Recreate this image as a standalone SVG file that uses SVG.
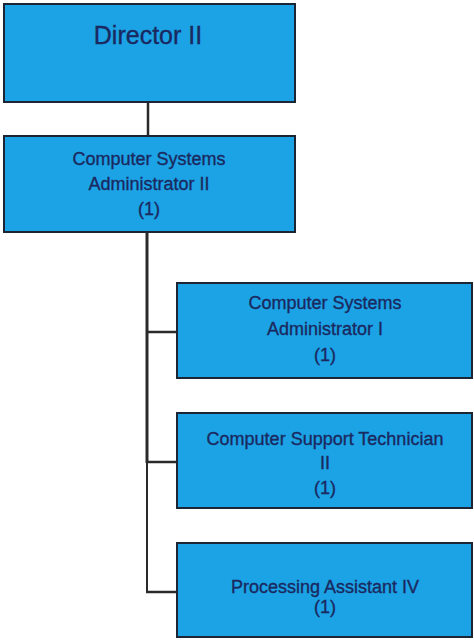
<svg xmlns="http://www.w3.org/2000/svg" width="474" height="641" viewBox="0 0 474 641">
<style>
.box{fill:#1ba3e6;stroke:#1c2533;stroke-width:2}
.t{font-family:"Liberation Sans",Arial,sans-serif;fill:#1a2960;stroke:#1a2960;stroke-width:0.35;text-anchor:middle;font-size:18px}
.big{font-size:25px}
.c{stroke:#2a2a2a;fill:none}
</style>
<rect width="474" height="641" fill="#ffffff"/>
<g id="connectors">
<line class="c" x1="148" y1="102" x2="148" y2="136" stroke-width="2.5"/>
<line class="c" x1="147" y1="232" x2="147" y2="463" stroke-width="3"/>
<line class="c" x1="147" y1="462" x2="147" y2="593" stroke-width="2"/>
<line class="c" x1="147" y1="332" x2="177" y2="332" stroke-width="2.5" stroke="#555"/>
<line class="c" x1="147" y1="462" x2="177" y2="462" stroke-width="2.5" stroke="#555"/>
<line class="c" x1="146" y1="592" x2="177" y2="592" stroke-width="2.5" stroke="#555"/>
</g>
<g id="director">
<rect class="box" x="4" y="4" width="291" height="98"/>
<text class="t big" x="148" y="44">Director II</text>
</g>
<g id="csa2">
<rect class="box" x="4" y="136" width="291" height="96"/>
<text class="t" x="149" y="165">Computer Systems</text>
<text class="t" x="149" y="190">Administrator II</text>
<text class="t" x="149" y="215">(1)</text>
</g>
<g id="csa1">
<rect class="box" x="177" y="283" width="295" height="95"/>
<text class="t" x="325" y="309">Computer Systems</text>
<text class="t" x="325" y="335">Administrator I</text>
<text class="t" x="325" y="361">(1)</text>
</g>
<g id="cst2">
<rect class="box" x="177" y="413" width="295" height="95"/>
<text class="t" x="325" y="445">Computer Support Technician</text>
<text class="t" x="325" y="469">II</text>
<text class="t" x="325" y="494">(1)</text>
</g>
<g id="pa4">
<rect class="box" x="177" y="543" width="295" height="94"/>
<text class="t" x="325" y="593">Processing Assistant IV</text>
<text class="t" x="325" y="613">(1)</text>
</g>
</svg>
